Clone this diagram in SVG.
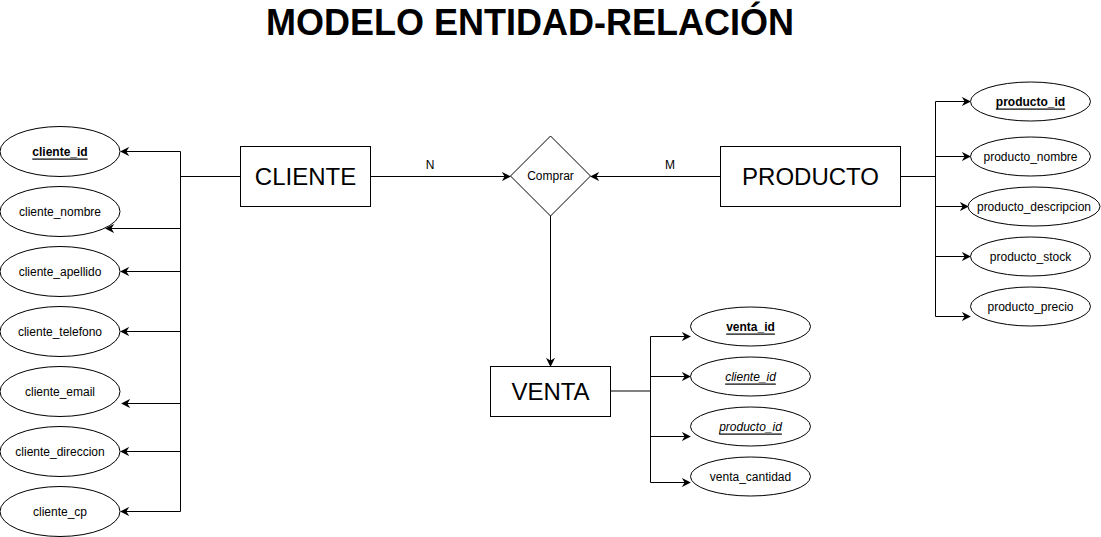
<svg xmlns="http://www.w3.org/2000/svg" width="1101" height="537" viewBox="0 0 1101 537">
<style>
.box{fill:#fff;stroke:#000;stroke-width:1}
.el{fill:#fff;stroke:#000;stroke-width:1}
.t{font-family:"Liberation Sans",Arial,sans-serif;fill:#000;text-anchor:middle;dominant-baseline:central}
.big{font-size:24px}
.sm{font-size:12px}
.key{font-weight:bold;text-decoration:underline}
.fk{font-style:italic;text-decoration:underline}
.ln{fill:none;stroke:#000;stroke-width:1}
</style>
<defs>
<marker id="arr" viewBox="0 0 10 10" refX="9" refY="5" markerWidth="9" markerHeight="9" markerUnits="userSpaceOnUse" orient="auto">
<path d="M0,0 L10,5 L0,10 L3,5 Z" fill="#000"/>
</marker>
</defs>
<rect width="1101" height="537" fill="#fff"/>
<text x="530" y="22" class="t" style="font-size:36px;font-weight:bold">MODELO ENTIDAD-RELACIÓN</text>

<g id="connectors">
<!-- cliente attributes -->
<path class="ln" d="M240,176.5 H180.5"/>
<path class="ln" d="M180.5,151.5 V511.5"/>
<path class="ln" d="M180.5,151.5 H121" marker-end="url(#arr)"/>
<path class="ln" d="M180.5,228.5 H106" marker-end="url(#arr)"/>
<path class="ln" d="M180.5,271.5 H121" marker-end="url(#arr)"/>
<path class="ln" d="M180.5,331.5 H121" marker-end="url(#arr)"/>
<path class="ln" d="M180.5,403.5 H122" marker-end="url(#arr)"/>
<path class="ln" d="M180.5,451.5 H121" marker-end="url(#arr)"/>
<path class="ln" d="M180.5,511.5 H121" marker-end="url(#arr)"/>
<!-- relations -->
<path class="ln" d="M370.5,176.5 H510" marker-end="url(#arr)"/>
<path class="ln" d="M720.5,176.5 H591" marker-end="url(#arr)"/>
<path class="ln" d="M550.5,216 V366" marker-end="url(#arr)"/>
<text x="430" y="165" class="t sm">N</text>
<text x="670" y="165" class="t sm">M</text>
<!-- producto attributes -->
<path class="ln" d="M900.5,176.5 H935.5"/>
<path class="ln" d="M935.5,101.5 V316.5"/>
<path class="ln" d="M935.5,101.5 H970" marker-end="url(#arr)"/>
<path class="ln" d="M935.5,156.5 H970" marker-end="url(#arr)"/>
<path class="ln" d="M935.5,206.5 H968" marker-end="url(#arr)"/>
<path class="ln" d="M935.5,256.5 H970" marker-end="url(#arr)"/>
<path class="ln" d="M935.5,316.5 H970" marker-end="url(#arr)"/>
<!-- venta attributes -->
<path class="ln" d="M610.5,391 H650.5"/>
<path class="ln" d="M650.5,336.5 V482.5"/>
<path class="ln" d="M650.5,336.5 H690" marker-end="url(#arr)"/>
<path class="ln" d="M650.5,376.5 H690" marker-end="url(#arr)"/>
<path class="ln" d="M650.5,436.5 H690" marker-end="url(#arr)"/>
<path class="ln" d="M650.5,482.5 H690" marker-end="url(#arr)"/>
</g>

<g id="cliente"><rect class="box" x="240.5" y="146.5" width="130" height="60"/><text x="305.5" y="176.5" class="t big">CLIENTE</text></g>
<g id="producto"><rect class="box" x="720.5" y="146.5" width="180" height="60"/><text x="810.5" y="176.5" class="t big">PRODUCTO</text></g>
<g id="venta"><rect class="box" x="490.5" y="366.5" width="120" height="50"/><text x="550.5" y="391.5" class="t big">VENTA</text></g>
<g id="comprar"><path class="box" d="M550.5,136 L590.5,176 L550.5,216 L510.5,176 Z"/><text x="550.5" y="176" class="t sm">Comprar</text></g>

<g id="cliente_id"><ellipse class="el" cx="60" cy="151.5" rx="60" ry="25"/><text x="60" y="151.5" class="t sm key">cliente_id</text></g>
<g id="cliente_nombre"><ellipse class="el" cx="60" cy="211.5" rx="60" ry="25"/><text x="60" y="211.5" class="t sm">cliente_nombre</text></g>
<g id="cliente_apellido"><ellipse class="el" cx="60" cy="271.5" rx="60" ry="25"/><text x="60" y="271.5" class="t sm">cliente_apellido</text></g>
<g id="cliente_telefono"><ellipse class="el" cx="60" cy="331.5" rx="60" ry="25"/><text x="60" y="331.5" class="t sm">cliente_telefono</text></g>
<g id="cliente_email"><ellipse class="el" cx="60" cy="391.5" rx="60" ry="25"/><text x="60" y="391.5" class="t sm">cliente_email</text></g>
<g id="cliente_direccion"><ellipse class="el" cx="60" cy="451.5" rx="60" ry="25"/><text x="60" y="451.5" class="t sm">cliente_direccion</text></g>
<g id="cliente_cp"><ellipse class="el" cx="60" cy="511.5" rx="60" ry="25"/><text x="60" y="511.5" class="t sm">cliente_cp</text></g>

<g id="producto_id"><ellipse class="el" cx="1030.5" cy="101.5" rx="60" ry="19.5"/><text x="1030.5" y="101.5" class="t sm key">producto_id</text></g>
<g id="producto_nombre"><ellipse class="el" cx="1030.5" cy="156.5" rx="60" ry="19.5"/><text x="1030.5" y="156.5" class="t sm">producto_nombre</text></g>
<g id="producto_descripcion"><ellipse class="el" cx="1034" cy="206.5" rx="66" ry="19.5"/><text x="1034" y="206.5" class="t sm">producto_descripcion</text></g>
<g id="producto_stock"><ellipse class="el" cx="1030.5" cy="256.5" rx="60" ry="19.5"/><text x="1030.5" y="256.5" class="t sm">producto_stock</text></g>
<g id="producto_precio"><ellipse class="el" cx="1030.5" cy="306.5" rx="60" ry="19.5"/><text x="1030.5" y="306.5" class="t sm">producto_precio</text></g>

<g id="venta_id"><ellipse class="el" cx="750.5" cy="326.5" rx="60" ry="19.5"/><text x="750.5" y="326.5" class="t sm key">venta_id</text></g>
<g id="venta_cliente_id"><ellipse class="el" cx="750.5" cy="376.5" rx="60" ry="19.5"/><text x="750.5" y="376.5" class="t sm fk">cliente_id</text></g>
<g id="venta_producto_id"><ellipse class="el" cx="750.5" cy="426.5" rx="60" ry="19.5"/><text x="750.5" y="426.5" class="t sm fk">producto_id</text></g>
<g id="venta_cantidad"><ellipse class="el" cx="750.5" cy="476.5" rx="60" ry="19.5"/><text x="750.5" y="476.5" class="t sm">venta_cantidad</text></g>
</svg>
